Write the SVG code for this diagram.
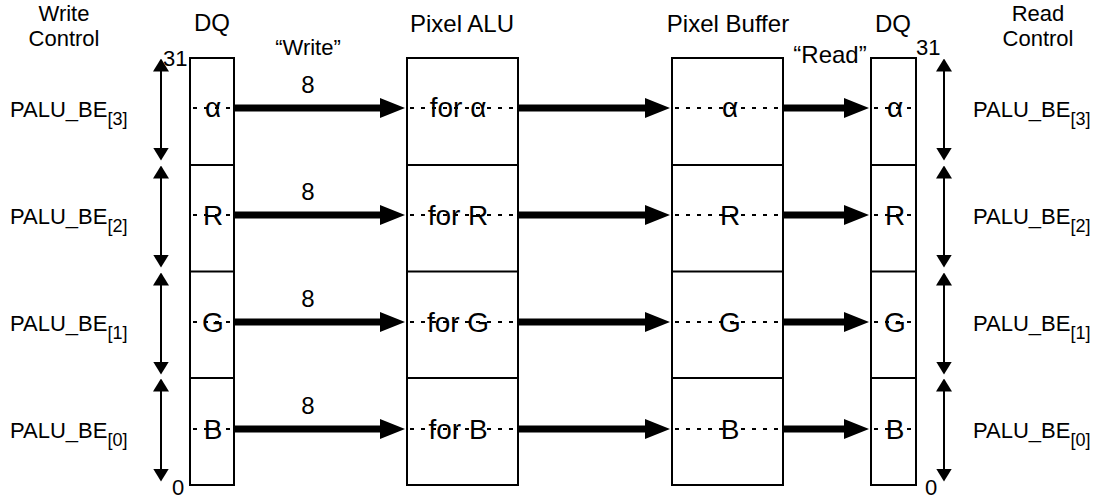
<svg xmlns="http://www.w3.org/2000/svg" width="1106" height="498" viewBox="0 0 1106 498">
<style>
text{font-family:"Liberation Sans",Arial,sans-serif;fill:#000}
.t{font-size:22px}
.h{font-size:24px}
.b{font-size:28px}
.c{text-anchor:middle}
.sub{font-size:18px}
.box{fill:none;stroke:#000;stroke-width:2}
.dash{stroke:#000;stroke-width:1.8;stroke-dasharray:4 7}
.thick{stroke:#000;stroke-width:7;fill:none;marker-end:url(#big)}
.dbl{stroke:#000;stroke-width:2;fill:none;marker-start:url(#sm);marker-end:url(#sm)}
</style>
<defs>
<marker id="big" markerUnits="userSpaceOnUse" viewBox="0 0 25 20" markerWidth="25" markerHeight="20" refX="1" refY="10" orient="auto"><path d="M0,0L25,10L0,20Z" fill="#000"/></marker>
<marker id="sm" markerUnits="userSpaceOnUse" viewBox="0 0 13 16" markerWidth="13" markerHeight="16" refX="0.5" refY="8" orient="auto-start-reverse"><path d="M0,0L13,8L0,16Z" fill="#000"/></marker>
</defs>
<rect width="1106" height="498" fill="#fff"/>

<g id="headers">
<text class="t c" x="64" y="21">Write</text>
<text class="t c" x="64" y="46">Control</text>
<text class="h c" x="212" y="31">DQ</text>
<text class="t c" x="308" y="55">“Write”</text>
<text class="h c" x="462" y="32">Pixel ALU</text>
<text class="h c" x="728" y="32">Pixel Buffer</text>
<text class="h c" x="893" y="32">DQ</text>
<text class="h c" x="830" y="63">“Read”</text>
<text class="t c" x="1038" y="21">Read</text>
<text class="t c" x="1038" y="46">Control</text>
<text class="t" x="163" y="66">31</text>
<text class="t" x="916" y="55">31</text>
<text class="t" x="172" y="495">0</text>
<text class="t" x="925" y="495">0</text>
</g>

<g id="dq-write">
<rect class="box" x="190" y="58" width="44" height="427"/>
<path class="box" d="M190,165H234M190,271.5H234M190,378H234"/>
</g>
<g id="pixel-alu">
<rect class="box" x="407" y="58" width="111" height="427"/>
<path class="box" d="M407,165H518M407,271.5H518M407,378H518"/>
</g>
<g id="pixel-buffer">
<rect class="box" x="672" y="58" width="111" height="427"/>
<path class="box" d="M672,165H783M672,271.5H783M672,378H783"/>
</g>
<g id="dq-read">
<rect class="box" x="871" y="58" width="45" height="427"/>
<path class="box" d="M871,165H916M871,271.5H916M871,378H916"/>
</g>

<g id="dashes">
<path class="dash" d="M193,108H232M410,108H516M675,108H781M874,108H914"/>
<path class="dash" d="M193,215H232M410,215H516M675,215H781M874,215H914"/>
<path class="dash" d="M193,322H232M410,322H516M675,322H781M874,322H914"/>
<path class="dash" d="M193,429H232M410,429H516M675,429H781M874,429H914"/>
</g>

<g id="cell-labels">
<text class="b c" x="213" y="117">α</text>
<text class="b c" x="458" y="117">for α</text>
<text class="b c" x="730" y="117">α</text>
<text class="b c" x="895" y="117">α</text>
<text class="b c" x="213" y="225">R</text>
<text class="b c" x="458" y="225">for R</text>
<text class="b c" x="730" y="225">R</text>
<text class="b c" x="895" y="225">R</text>
<text class="b c" x="213" y="332">G</text>
<text class="b c" x="458" y="332">for G</text>
<text class="b c" x="730" y="332">G</text>
<text class="b c" x="895" y="332">G</text>
<text class="b c" x="213" y="439">B</text>
<text class="b c" x="458" y="439">for B</text>
<text class="b c" x="730" y="439">B</text>
<text class="b c" x="895" y="439">B</text>
</g>

<g id="width-labels">
<text class="h c" x="308" y="93">8</text>
<text class="h c" x="308" y="200">8</text>
<text class="h c" x="308" y="307">8</text>
<text class="h c" x="308" y="414">8</text>
</g>

<g id="connectors">
<path class="thick" d="M234,108H381"/>
<path class="thick" d="M518,108H646"/>
<path class="thick" d="M783,108H845"/>
<path class="thick" d="M234,215H381"/>
<path class="thick" d="M518,215H646"/>
<path class="thick" d="M783,215H845"/>
<path class="thick" d="M234,322H381"/>
<path class="thick" d="M518,322H646"/>
<path class="thick" d="M783,322H845"/>
<path class="thick" d="M234,429H381"/>
<path class="thick" d="M518,429H646"/>
<path class="thick" d="M783,429H845"/>
<path class="dbl" d="M161,71V148"/>
<path class="dbl" d="M161,178V255"/>
<path class="dbl" d="M161,285V362"/>
<path class="dbl" d="M161,391V469"/>
<path class="dbl" d="M944,71V148"/>
<path class="dbl" d="M944,178V255"/>
<path class="dbl" d="M944,285V362"/>
<path class="dbl" d="M944,391V469"/>
</g>

<g id="enable-labels">
<text class="t" x="10" y="117">PALU_BE<tspan class="sub" dy="8">[3]</tspan></text>
<text class="t" x="10" y="224">PALU_BE<tspan class="sub" dy="8">[2]</tspan></text>
<text class="t" x="10" y="331">PALU_BE<tspan class="sub" dy="8">[1]</tspan></text>
<text class="t" x="10" y="438">PALU_BE<tspan class="sub" dy="8">[0]</tspan></text>
<text class="t" x="973" y="117">PALU_BE<tspan class="sub" dy="8">[3]</tspan></text>
<text class="t" x="973" y="224">PALU_BE<tspan class="sub" dy="8">[2]</tspan></text>
<text class="t" x="973" y="331">PALU_BE<tspan class="sub" dy="8">[1]</tspan></text>
<text class="t" x="973" y="438">PALU_BE<tspan class="sub" dy="8">[0]</tspan></text>
</g>
</svg>
